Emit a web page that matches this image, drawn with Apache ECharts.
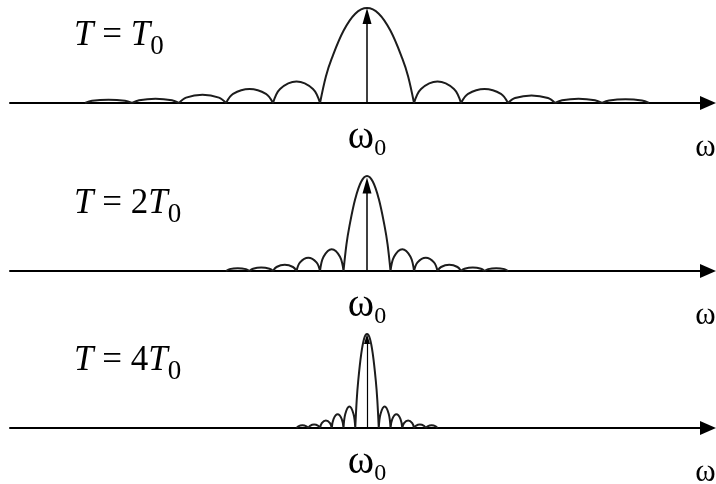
<!DOCTYPE html>
<html>
<head>
<meta charset="utf-8">
<script src="https://cdn.jsdelivr.net/npm/echarts@6/dist/echarts.min.js"></script>
<style>
  html, body { margin: 0; padding: 0; background: #ffffff; }
  #chart { width: 716px; height: 484px; }
</style>
</head>
<body>
<div id="chart"></div>
<script>
// Observation window length of each panel, in multiples of T0
const windowLengths = [1, 2, 4];
// Coefficient shown in each "T = kT0" caption
const captionCoefficients = ['', '2', '4'];
// Centre-frequency label and axis name
const centerSymbol = 'ω';
const centerSubscript = '0';
const axisSymbol = 'ω';

// Normalised frequency offset (ω − ω0)·T / 2π of every sample; null breaks the curve between lobes
const lobeOffsets = [
  -6, -5.85, -5.5, -5.15, -5, null,
  -5, -4.85, -4.5, -4.15, -4, null,
  -4, -3.85, -3.5, -3.15, -3, null,
  -3, -2.85, -2.5, -2.15, -2, null,
  -2, -1.85, -1.5, -1.15, -1, null,
  -1, -0.875, -0.75, -0.5, -0.25, 0, 0.25, 0.5, 0.75, 0.875, 1, null,
  1, 1.15, 1.5, 1.85, 2, null,
  2, 2.15, 2.5, 2.85, 3, null,
  3, 3.15, 3.5, 3.85, 4, null,
  4, 4.15, 4.5, 4.85, 5, null,
  5, 5.15, 5.5, 5.85, 6
];

// Spectrum magnitude (normalised to the main peak), T = T0
const magnitudeT1 = [
  0, 0.023, 0.035, 0.023, 0, null,
  0, 0.029, 0.045, 0.029, 0, null,
  0, 0.057, 0.087, 0.057, 0, null,
  0, 0.096, 0.147, 0.096, 0, null,
  0, 0.148, 0.227, 0.148, 0, null,
  0, 0.28, 0.47, 0.76, 0.94, 1, 0.94, 0.76, 0.47, 0.28, 0, null,
  0, 0.148, 0.227, 0.148, 0, null,
  0, 0.096, 0.147, 0.096, 0, null,
  0, 0.052, 0.08, 0.052, 0, null,
  0, 0.029, 0.045, 0.029, 0, null,
  0, 0.026, 0.04, 0.026, 0
];

// Spectrum magnitude, T = 2T0
const magnitudeT2 = [
  0, 0.02, 0.03, 0.02, 0, null,
  0, 0.024, 0.037, 0.024, 0, null,
  0, 0.042, 0.065, 0.042, 0, null,
  0, 0.091, 0.14, 0.091, 0, null,
  0, 0.15, 0.23, 0.15, 0, null,
  0, 0.28, 0.47, 0.76, 0.94, 1, 0.94, 0.76, 0.47, 0.28, 0, null,
  0, 0.15, 0.23, 0.15, 0, null,
  0, 0.091, 0.14, 0.091, 0, null,
  0, 0.042, 0.065, 0.042, 0, null,
  0, 0.024, 0.037, 0.024, 0, null,
  0, 0.02, 0.03, 0.02, 0
];

// Spectrum magnitude, T = 4T0
const magnitudeT4 = [
  0, 0.018, 0.028, 0.018, 0, null,
  0, 0.023, 0.036, 0.023, 0, null,
  0, 0.052, 0.08, 0.052, 0, null,
  0, 0.094, 0.145, 0.094, 0, null,
  0, 0.15, 0.23, 0.15, 0, null,
  0, 0.3, 0.5, 0.78, 0.95, 1, 0.95, 0.78, 0.5, 0.3, 0, null,
  0, 0.15, 0.23, 0.15, 0, null,
  0, 0.094, 0.145, 0.094, 0, null,
  0, 0.052, 0.08, 0.052, 0, null,
  0, 0.023, 0.036, 0.023, 0, null,
  0, 0.018, 0.028, 0.018, 0
];

// Height reached by the centre line of each impulse arrow
const impulseHeights = [0.916, 0.9, 0.947];

const magnitudes = [magnitudeT1, magnitudeT2, magnitudeT4];

// ---- layout ----
const SERIF = '"Liberation Serif", "Times New Roman", serif';
const baselineY = [103, 271, 428];   // pixel row of each frequency axis
const plotHeight = [95, 95, 94];
const gridLeft = 10;
const gridRight = 8;
const baseRange = [-7.596, 7.255];   // visible span of panel 1 in its normalised units
const arrowHeads = [[9, 16], [9, 16], [6, 10]];
const arrowWidths = [1.5, 1.5, 1.2];

const toPairs = (xs, ys) => xs.map((x, i) => (x === null ? ['-', '-'] : [x, ys[i]]));

const grids = [], xAxes = [], yAxes = [], series = [], graphics = [];

windowLengths.forEach((t, i) => {
  grids.push({
    left: gridLeft,
    right: gridRight,
    top: baselineY[i] - plotHeight[i],
    height: plotHeight[i],
    containLabel: false,
    outerBoundsMode: 'none'
  });

  xAxes.push({
    type: 'value',
    gridIndex: i,
    min: baseRange[0] * t,
    max: baseRange[1] * t,
    splitLine: { show: false },
    axisTick: { show: false },
    axisLine: {
      show: true,
      symbol: ['none', 'triangle'],
      symbolSize: [14, 16],
      lineStyle: { color: '#000', width: 2 }
    },
    axisLabel: {
      customValues: [0],
      margin: 14,
      formatter: () => '{w|' + centerSymbol + '}{s|' + centerSubscript + '}',
      rich: {
        w: { fontFamily: SERIF, fontSize: 40, lineHeight: 40, verticalAlign: 'top', color: '#000' },
        s: { fontFamily: SERIF, fontSize: 24, lineHeight: 24, padding: [20, 0, 0, 0], verticalAlign: 'top', color: '#000' }
      }
    },
    name: axisSymbol,
    nameLocation: 'end',
    nameGap: 0,
    nameTextStyle: {
      fontFamily: SERIF,
      fontSize: 31,
      lineHeight: 31,
      color: '#000',
      align: 'center',
      verticalAlign: 'top',
      padding: [29, 5, 0, 0]
    }
  });

  yAxes.push({ type: 'value', gridIndex: i, min: 0, max: 1, show: false });

  series.push({
    type: 'line',
    xAxisIndex: i,
    yAxisIndex: i,
    data: toPairs(lobeOffsets, magnitudes[i]),
    connectNulls: false,
    showSymbol: false,
    symbol: 'none',
    smooth: 0.35,
    clip: false,
    silent: true,
    lineStyle: { color: '#1c1c1c', width: 2 },
    markLine: {
      silent: true,
      animation: false,
      symbol: ['none', 'triangle'],
      symbolSize: arrowHeads[i],
      label: { show: false },
      lineStyle: { color: '#000', width: arrowWidths[i], type: 'solid' },
      itemStyle: { color: '#000' },
      emphasis: { disabled: true },
      data: [[{ coord: [0, 0] }, { coord: [0, impulseHeights[i]] }]]
    }
  });

  graphics.push({
    type: 'text',
    left: 74,
    top: baselineY[i] - 85,
    silent: true,
    style: {
      text: '{i|T}{n| = ' + captionCoefficients[i] + '}{i|T}{s|0}',
      rich: {
        i: { fontFamily: SERIF, fontSize: 35, lineHeight: 35, fontStyle: 'italic', verticalAlign: 'top', fill: '#000' },
        n: { fontFamily: SERIF, fontSize: 35, lineHeight: 35, verticalAlign: 'top', fill: '#000' },
        s: { fontFamily: SERIF, fontSize: 27, lineHeight: 27, padding: [15, 0, 0, 0], verticalAlign: 'top', fill: '#000' }
      }
    }
  });
});

const chart = echarts.init(document.getElementById('chart'), null, { renderer: 'canvas' });
chart.setOption({
  animation: false,
  backgroundColor: '#ffffff',
  grid: grids,
  xAxis: xAxes,
  yAxis: yAxes,
  series: series,
  graphic: graphics
});
</script>
</body>
</html>
